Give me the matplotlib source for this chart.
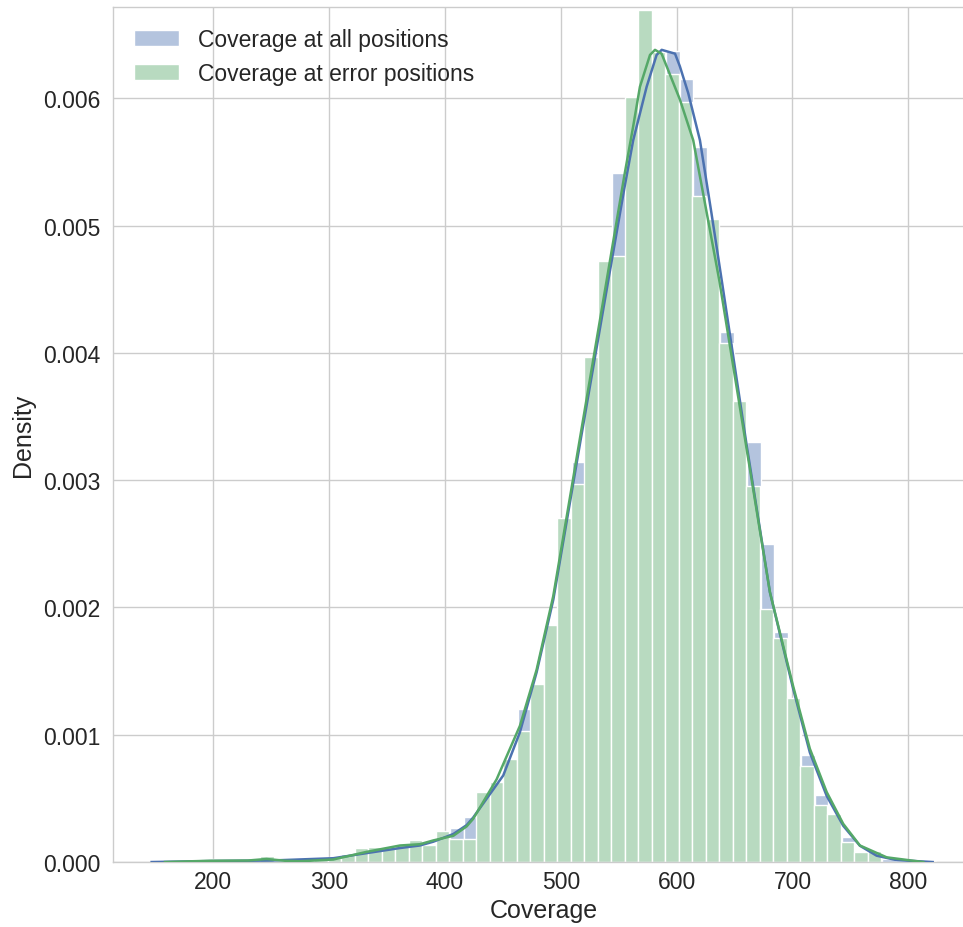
import numpy as np
import matplotlib
matplotlib.use("Agg")
import matplotlib.pyplot as plt
from matplotlib.colors import to_rgb

# histogram ranges (coverage values) and bin counts
all_range, all_bins = (148.4, 824.1), 58
err_range, err_bins = (159.0, 776.5), 53

# density per bin, coverage at all positions
all_density = [
    0.00001, 0.00001, 0.00001, 0.00001, 0.00001, 0.00001, 0.00001, 0.00001,
    0.00002, 0.00002, 0.00002, 0.00003, 0.00003, 0.00004, 0.00005, 0.00007,
    0.00009, 0.00010, 0.00011, 0.00012, 0.00012, 0.00019, 0.00027, 0.00035,
    0.00050, 0.00062, 0.00080, 0.00120, 0.00138, 0.00185, 0.00260, 0.00314,
    0.00390, 0.00460, 0.00541, 0.00590, 0.00630, 0.00630, 0.00637, 0.00615,
    0.00562, 0.00493, 0.00416, 0.00360, 0.00330, 0.00250, 0.00181, 0.00125,
    0.00084, 0.00053, 0.00035, 0.00020, 0.00009, 0.00005, 0.00002, 0.00001,
    0.00001, 0.00001,
]

# density per bin, coverage at error positions
err_density = [
    0.00001, 0.00001, 0.00001, 0.00002, 0.00001, 0.00001, 0.00001, 0.00005,
    0.00001, 0.00001, 0.00001, 0.00002, 0.00003, 0.00006, 0.00011, 0.00012,
    0.00012, 0.00014, 0.00017, 0.00013, 0.00024, 0.00018, 0.00018, 0.00055,
    0.00063, 0.00081, 0.00103, 0.00140, 0.00186, 0.00270, 0.00297, 0.00397,
    0.00472, 0.00476, 0.00601, 0.00669, 0.00636, 0.00619, 0.00597, 0.00523,
    0.00505, 0.00408, 0.00362, 0.00295, 0.00199, 0.00176, 0.00129, 0.000756,
    0.00045, 0.000377, 0.000155, 0.000076, 0.000089,
]

# kde curves
all_kde_x = [146.8, 200, 250, 303.6, 332.4, 361.2, 378.4, 390, 407.2, 418.7,
             424.4, 450.3, 464.7, 479.1, 493.5, 517, 541, 555, 562.5, 574.1,
             582.7, 587.1, 598.6, 602.8, 610, 620.1, 630, 638.9, 660, 680.5,
             700.6, 715, 729.5, 743.8, 758.2, 772.6, 790, 801.4, 821]
all_kde_y = [0.0, 0.000008, 0.000012, 0.00003, 0.00007, 0.00011, 0.00013,
             0.00016, 0.00022, 0.00029, 0.00035, 0.00068, 0.00102, 0.00149,
             0.00206, 0.00331, 0.00457, 0.00530, 0.00567, 0.00609, 0.00634,
             0.00638, 0.00635, 0.00625, 0.00604, 0.00567, 0.00510, 0.00457,
             0.00330, 0.00212, 0.00136, 0.00086, 0.00052, 0.000285, 0.000128,
             0.00005, 0.000015, 0.00001, 0.0]

err_kde_x = [158.3, 197, 230, 246, 262, 275, 303.6, 332.4, 361.2, 378.4, 390,
             407.2, 418.7, 424.4, 444.6, 464.7, 479.1, 493.5, 539.6, 555,
             562.5, 568.3, 577, 581.3, 587, 591.4, 602.8, 614.3, 636.8, 680.5,
             700.6, 715, 729.5, 743.8, 758.2, 781.3, 812.9]
err_kde_y = [0.0, 0.00001, 0.000012, 0.000024, 0.00001, 0.000006, 0.00002,
             0.00008, 0.00013, 0.00014, 0.00017, 0.000206, 0.00028, 0.00034,
             0.00065, 0.00107, 0.00151, 0.00209, 0.00457, 0.00540, 0.00578,
             0.00609, 0.00634, 0.00638, 0.00635, 0.00625, 0.00599, 0.00567,
             0.00457, 0.00212, 0.00138, 0.00089, 0.00055, 0.00030, 0.00013,
             0.000037, 0.0]

labels = ["Coverage at all positions", "Coverage at error positions"]
blue, green = "#4C72B0", "#55A868"


def faded(c, a=0.42):
    # the bars look like a light tint that hides what is below
    r = np.array(to_rgb(c))
    return tuple(a * r + (1 - a))


plt.rcParams["font.family"] = ["Liberation Sans", "DejaVu Sans"]
plt.rcParams["text.color"] = ".15"
plt.rcParams["axes.labelcolor"] = ".15"
plt.rcParams["xtick.color"] = ".15"
plt.rcParams["ytick.color"] = ".15"

fig = plt.figure(figsize=(9.63, 9.28), dpi=100)
ax = fig.add_axes([0.1173, 0.0700, 0.8945, 0.9213])

for rng, n, dens, col, lab in [(all_range, all_bins, all_density, blue, labels[0]),
                               (err_range, err_bins, err_density, green, labels[1])]:
    edges = np.linspace(rng[0], rng[1], n + 1)
    ax.bar(edges[:-1], dens, width=np.diff(edges), align="edge",
           color=faded(col), edgecolor="white", linewidth=1.0, label=lab)

ax.plot(all_kde_x, all_kde_y, color=blue, lw=1.8, zorder=3)
ax.plot(err_kde_x, err_kde_y, color=green, lw=1.8, zorder=3)

ax.set_xlim(113.4, 857.0)
ax.set_ylim(0, 0.006716)
ax.set_xticks([200, 300, 400, 500, 600, 700, 800])
ax.set_yticks([0, 0.001, 0.002, 0.003, 0.004, 0.005, 0.006])
ax.yaxis.set_major_formatter(matplotlib.ticker.FormatStrFormatter("%.3f"))
ax.tick_params(axis="both", length=0, labelsize=16.5)
ax.tick_params(axis="y", pad=9)
ax.tick_params(axis="x", pad=6)

ax.set_axisbelow(True)
ax.grid(True, color="#cccccc", linewidth=1.0)
for sp in ax.spines.values():
    sp.set_color("#cccccc")
    sp.set_linewidth(1.0)

ax.set_xlabel("Coverage", fontsize=18, labelpad=3)
ax.set_ylabel("Density", fontsize=18, labelpad=6)

ax.legend(loc="upper left", frameon=False, fontsize=16.5, handlelength=2.0,
          handletextpad=0.8)

fig.savefig("out.png", dpi=100)
